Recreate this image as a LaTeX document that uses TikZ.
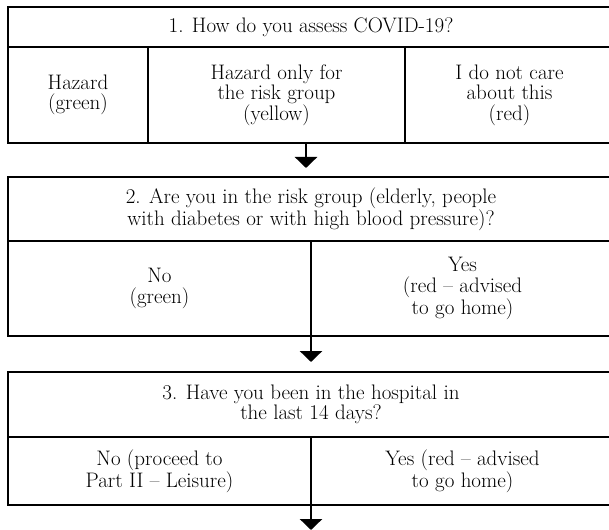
\documentclass[tikz,border=0pt]{standalone}
\usetikzlibrary{arrows.meta}
\begin{document}
\begin{tikzpicture}[x=1pt,y=-1pt,
  cell/.style={draw,line width=2.8pt,inner sep=0pt,outer sep=0pt,anchor=north west,align=center,font=\fontsize{21}{20.5}\selectfont},
  flow/.style={line width=2.8pt,-{Triangle[width=22pt,length=11pt]}}]
\useasboundingbox (0,0) rectangle (609,529);
\node[cell,minimum width=606pt,minimum height=40pt] (q1) at (8,7) {1. How do you assess COVID-19?};
\node[cell,minimum width=140pt,minimum height=96pt] (green1) at (q1.south west) {Hazard\\(green)};
\node[cell,minimum width=257pt,minimum height=96pt] (yellow1) at (green1.north east) {Hazard only for\\the risk group\\(yellow)};
\node[cell,minimum width=209pt,minimum height=96pt] (red1) at (yellow1.north east) {I do not care\\about this\\(red)};
\coordinate (a1) at (306,143);
\node[cell,minimum width=606pt,minimum height=64pt] (q2) at (8,177) {2. Are you in the risk group (elderly, people\\with diabetes or with high blood pressure)?};
\draw[flow,shorten >=9pt] (a1) -- (a1 |- q2.north);
\node[cell,minimum width=303pt,minimum height=95pt] (no2) at (q2.south west) {No\\(green)};
\node[cell,minimum width=303pt,minimum height=95pt] (yes2) at (no2.north east) {Yes\\(red -- advised\\to go home)};
\node[cell,minimum width=606pt,minimum height=65pt] (q3) at (8,372) {3. Have you been in the hospital in\\the last 14 days?};
\draw[flow,shorten >=10pt] (no2.south east) -- (q3.north -| no2.south east);
\node[cell,minimum width=303pt,minimum height=68pt] (no3) at (q3.south west) {No (proceed to\\Part II -- Leisure)};
\node[cell,minimum width=303pt,minimum height=68pt] (yes3) at (no3.north east) {Yes (red -- advised\\to go home)};
\coordinate (end) at (311,530);
\draw[flow] (no3.south east) -- (end);
\end{tikzpicture}
\end{document}
